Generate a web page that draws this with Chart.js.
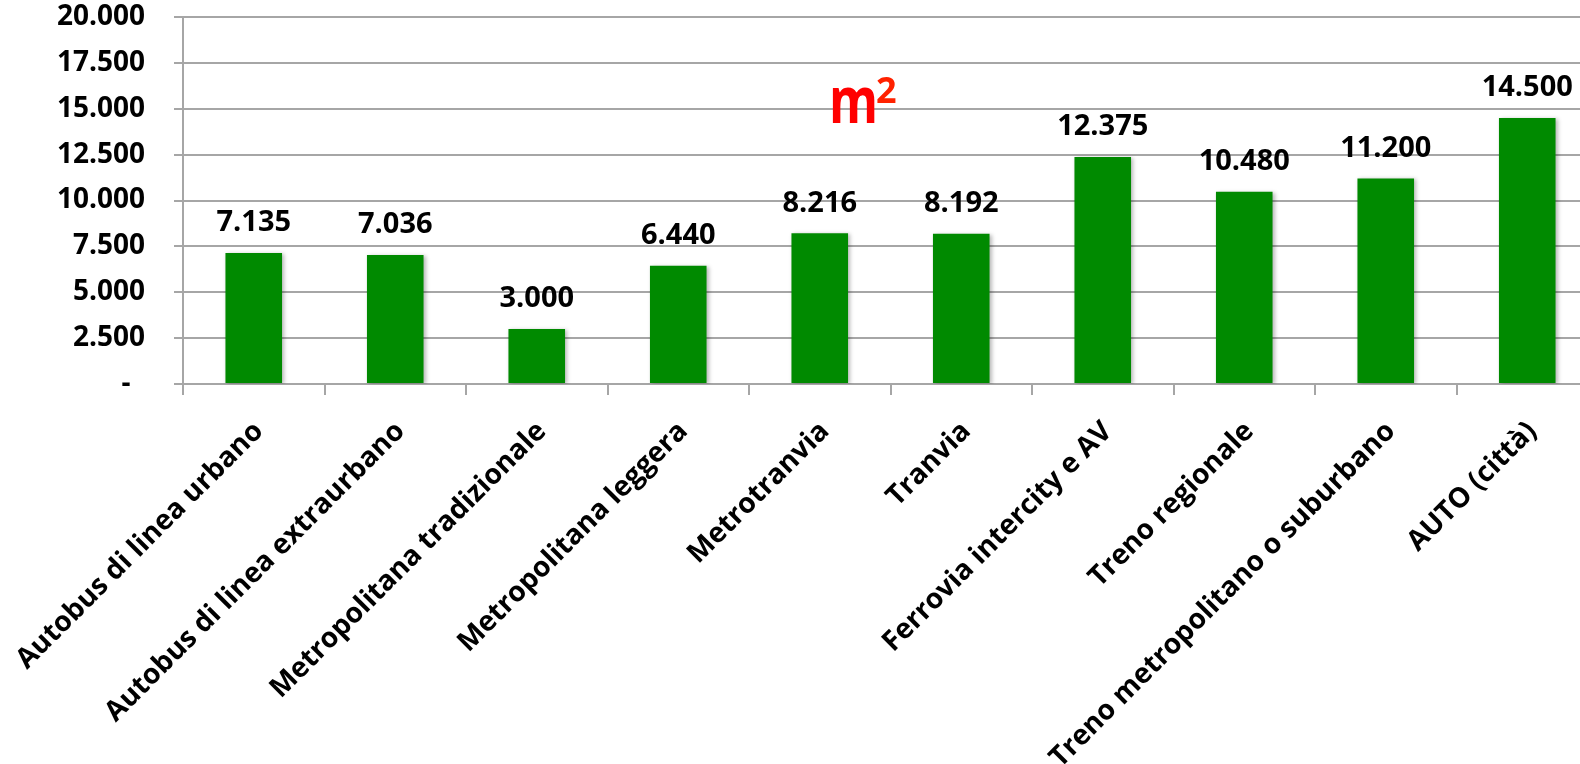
<!DOCTYPE html>
<html>
<head>
<meta charset="utf-8">
<script src="https://cdn.jsdelivr.net/npm/chart.js@4.4.1/dist/chart.umd.min.js"></script>
<style>
	html, body { margin: 0; padding: 0; background: #fff; overflow: hidden; }
	#wrap { position: relative; width: 1610px; height: 764px; }
</style>
</head>
<body>
<div id="wrap"><canvas id="myChart"></canvas></div>
<script>
const categories = [
	"Autobus di linea urbano",
	"Autobus di linea extraurbano",
	"Metropolitana tradizionale",
	"Metropolitana leggera",
	"Metrotranvia",
	"Tranvia",
	"Ferrovia intercity e AV",
	"Treno regionale",
	"Treno metropolitano o suburbano",
	"AUTO (città)"
];
const areaValues = [7135, 7036, 3000, 6440, 8216, 8192, 12375, 10480, 11200, 14500];
const yTicks = [0, 2500, 5000, 7500, 10000, 12500, 15000, 17500, 20000];
const unitText = "m";
const unitSup = "2";

const FONT = "'Open Sans', 'Noto Sans', sans-serif";

// thousands with a dot, like the original sheet
const fmt = (v) => String(v).replace(/\B(?=(\d{3})+(?!\d))/g, ".");

const barShadow = {
	id: "barShadow",
	beforeDatasetDraw(chart) {
		const c = chart.ctx;
		c.save();
		c.shadowColor = "rgba(0,0,0,0.28)";
		c.shadowBlur = 4;
		c.shadowOffsetX = 2;
		c.shadowOffsetY = 1;
	},
	afterDatasetDraw(chart) {
		chart.ctx.restore();
	}
};

const valueLabels = {
	id: "valueLabels",
	afterDatasetsDraw(chart) {
		const c = chart.ctx;
		const meta = chart.getDatasetMeta(0);
		c.save();
		c.font = "bold 29px " + FONT;
		c.fillStyle = "#000";
		c.textAlign = "center";
		c.textBaseline = "middle";
		meta.data.forEach((bar, i) => {
			c.fillText(fmt(areaValues[i]), bar.x, bar.y - 30);
		});
		c.restore();
	}
};

const unitTitle = {
	id: "unitTitle",
	afterDraw(chart) {
		const c = chart.ctx;
		c.save();
		c.fillStyle = "#ff0000";
		c.textBaseline = "alphabetic";
		c.translate(829, 123);
		c.scale(0.78, 1);
		c.font = "bold 64px " + FONT;
		c.fillText(unitText, 0, 0);
		c.restore();
		c.save();
		c.fillStyle = "#ff2200";
		c.font = "bold 36px " + FONT;
		c.fillText(unitSup, 876, 103);
		c.restore();
	}
};

const ctx = document.getElementById("myChart");
new Chart(ctx, {
	type: "bar",
	data: {
		labels: categories,
		datasets: [{
			data: areaValues,
			backgroundColor: "#008a00",
			borderWidth: 0,
			barPercentage: 0.4,
			categoryPercentage: 1.0
		}]
	},
	options: {
		responsive: true,
		maintainAspectRatio: false,
		animation: false,
		layout: { padding: { top: 17, right: 12, left: 0, bottom: 0 } },
		plugins: {
			legend: { display: false },
			tooltip: { enabled: false }
		},
		scales: {
			y: {
				min: 0,
				max: 20000,
				afterBuildTicks: (scale) => { scale.ticks = yTicks.map(v => ({ value: v })); },
				afterFit: (scale) => {
					scale.width = 183;
					scale.paddingTop = 0;
					scale.paddingBottom = 0;
				},
				border: { color: "#a6a6a6", width: 2 },
				grid: {
					color: "#a6a6a6",
					lineWidth: 2,
					tickLength: 9
				},
				ticks: {
					color: "#000",
					padding: 29,
					font: { family: FONT, size: 28, weight: "bold" },
					callback: (v) => v === 0 ? "-  " : fmt(v)
				}
			},
			x: {
				afterFit: (scale) => {
					scale.height = 380;
					scale.paddingLeft = 0;
					scale.paddingRight = 0;
				},
				border: { color: "#a6a6a6", width: 2 },
				grid: {
					color: "#a6a6a6",
					lineWidth: 2,
					drawOnChartArea: false,
					tickLength: 11,
					offset: true
				},
				ticks: {
					color: "#000",
					autoSkip: false,
					minRotation: 45,
					maxRotation: 45,
					padding: 20,
					labelOffset: 5,
					font: { family: FONT, size: 28, weight: "bold" }
				}
			}
		}
	},
	plugins: [barShadow, valueLabels, unitTitle]
});
</script>
</body>
</html>
